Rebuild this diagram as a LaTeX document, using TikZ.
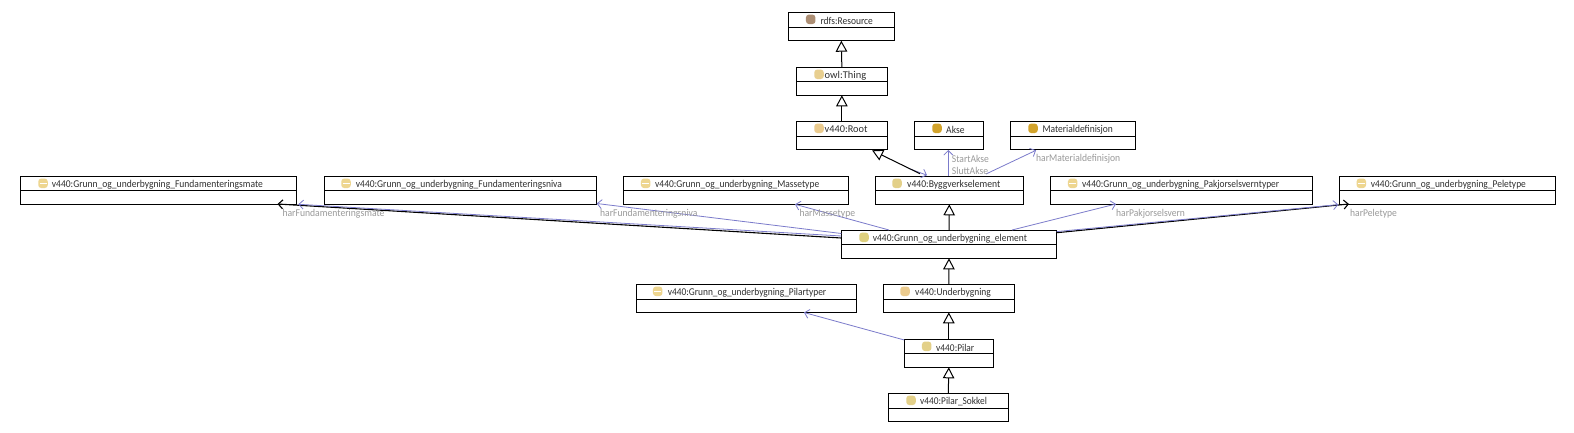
\documentclass[tikz,border=0pt]{standalone}
\usepackage{graphicx}
\usepackage{fontspec}
\setmainfont{Carlito}
\usetikzlibrary{arrows.meta}
\definecolor{rel}{HTML}{7B7BCB}
\definecolor{lbl}{HTML}{9A9A9A}
\definecolor{txt}{HTML}{303030}
\definecolor{icres}{HTML}{AC8E74}
\definecolor{icthing}{HTML}{E8CF90}
\definecolor{icroot}{HTML}{EBCB8E}
\definecolor{icind}{HTML}{D2A32B}
\definecolor{iccls}{HTML}{E3D089}
\definecolor{icelem}{HTML}{DED07E}
\definecolor{icenum}{HTML}{EED690}
\tikzset{
  umlbox/.style={draw=black,line width=1pt,fill=white,inner sep=0pt,outer sep=0pt},
  divider/.style={draw=black,line width=1pt},
  icon/.style={inner sep=0pt,outer sep=0pt,minimum width=9.5pt,minimum height=9.5pt,rounded corners=3pt},
  clsname/.style={anchor=west,inner sep=0pt,text=txt,font=\fontsize{10.4}{12}\selectfont},
  rellabel/.style={anchor=west,inner sep=0pt,text=lbl,font=\fontsize{10.4}{12}\selectfont},
  gen/.style={draw=black,line width=1pt,-{Triangle[open,length=11pt,width=11.5pt,line width=1pt]}},
  assoc/.style={draw=rel,line width=0.8pt,-{Straight Barb[length=4.5pt,width=9pt,line width=0.8pt]}},
  assocb/.style={draw=black,line width=1.1pt,-{Straight Barb[length=4.5pt,width=9pt,line width=1.1pt]}},
}
% name, x1, y1, x2, y2, divider y, icon x, text x, icon colour, then {text width}{label}
\newcommand{\umlclass}[9]{%
  \node[umlbox,minimum width={(#4-#2)*1pt},minimum height={(#5-#3)*1pt}] (#1) at ({(#2+#4)/2},{(#3+#5)/2}) {};
  \draw[divider] (#2,#6) -- (#4,#6);
  \node[icon,fill=#9] (#1-icon) at (#7,#3+7) {};
  \umltext{#1}{#8}{#3}}
\newcommand{\umltext}[5]{\node[clsname] (#1-label) at (#2,#3+8.2) {\resizebox{#4pt}{\height}{#5}};}
\newcommand{\rellab}[5]{\node[rellabel] (#1) at (#2,#3) {\resizebox{#4pt}{\height}{#5}};}
\newcommand{\enumbar}[1]{\draw[white,line width=1.2pt] ([xshift=-3.5pt]#1-icon.center) -- ([xshift=3.5pt]#1-icon.center);}
\begin{document}
\begin{tikzpicture}[x=1pt,y=-1pt]
\useasboundingbox (0,0) rectangle (1574,433);
\fill[white] (0,0) rectangle (1574,433);
% classes
\umlclass{res}{788.3}{12.3}{894.3}{40.7}{27.3}{810.7}{820.3}{icres}{52.4}{rdfs:Resource}
\umlclass{thing}{796}{67.3}{887.7}{95.3}{82}{819}{824.5}{icthing}{41.5}{owl:Thing}
\umlclass{root}{796}{121.3}{887.7}{149.3}{136.3}{819}{824.5}{icroot}{42.8}{v440:Root}
\umlclass{akse}{914.3}{121.3}{983.3}{149.3}{136.3}{937}{946}{icind}{18.3}{Akse}
\umlclass{mat}{1010.3}{121.3}{1135.3}{149.3}{136.3}{1033}{1042.3}{icind}{70.4}{Materialdefinisjon}
\umlclass{bygg}{875.3}{176.3}{1023.3}{204.3}{190.3}{897}{907}{iccls}{93}{v440:Byggverkselement}
\umlclass{fmate}{20.3}{176.3}{296.3}{204.3}{190.3}{43}{51.7}{icenum}{211}{v440:Grunn\_og\_underbygning\_Fundamenteringsmate}
\umlclass{fniva}{324.3}{176.3}{596.3}{204.3}{190.3}{346}{355.7}{icenum}{206}{v440:Grunn\_og\_underbygning\_Fundamenteringsniva}
\umlclass{masse}{623.3}{176.3}{848.3}{204.3}{190.3}{645.7}{655}{icenum}{164}{v440:Grunn\_og\_underbygning\_Massetype}
\umlclass{pakj}{1050.3}{176.3}{1312.7}{204.3}{190.3}{1072.7}{1082}{icenum}{197}{v440:Grunn\_og\_underbygning\_Pakjorselsverntyper}
\umlclass{pele}{1339.3}{176.3}{1555.3}{204.3}{190.3}{1361.3}{1370.7}{icenum}{155}{v440:Grunn\_og\_underbygning\_Peletype}
\umlclass{elem}{841.3}{230.3}{1056.7}{258.3}{244.3}{864}{872.7}{icelem}{154}{v440:Grunn\_og\_underbygning\_element}
\umlclass{under}{883.3}{284.3}{1014.3}{312.3}{299.3}{905}{915}{icroot}{75.7}{v440:Underbygning}
\umlclass{pilt}{636.3}{284.3}{856.3}{312.3}{299.3}{657.7}{667.7}{icenum}{158.3}{v440:Grunn\_og\_underbygning\_Pilartyper}
\umlclass{pilar}{904.3}{339.3}{993.3}{367.3}{353.3}{926.7}{936}{iccls}{38}{v440:Pilar}
\umlclass{sokkel}{888.3}{393.3}{1008.3}{421.3}{408.3}{911}{920}{iccls}{66.7}{v440:Pilar\_Sokkel}
\enumbar{fmate}\enumbar{fniva}\enumbar{masse}\enumbar{pakj}\enumbar{pele}\enumbar{pilt}
% connector end points on the box edges
\coordinate (rootTip) at (872,150.3);
\coordinate (byggGenStart) at (920,173.7);
\coordinate (byggStub) at (910,169);
\coordinate (byggStubTip) at (927,175.2);
\coordinate (aksS) at (948.3,176);
\coordinate (aksT) at (948.3,150);
\coordinate (matS) at (986,174);
\coordinate (matT) at (1036,150.3);
\coordinate (elL) at (841.3,238);
\coordinate (elLb) at (841.3,236);
\coordinate (elLc) at (841.3,233.5);
\coordinate (elMasse) at (889,230);
\coordinate (elPakj) at (1012,230);
\coordinate (elR) at (1056.7,232.7);
\coordinate (elRb) at (1056.7,231.6);
\coordinate (mateTip) at (277.5,204);
\coordinate (mateBlue) at (298.3,204.3);
\coordinate (nivaTip) at (596.7,203.5);
\coordinate (masseTip) at (795,204.3);
\coordinate (pakjTip) at (1116,204);
\coordinate (peleTip) at (1349,204);
\coordinate (peleBlue) at (1338.3,204.6);
\coordinate (piltTip) at (804,312.5);
\coordinate (pilarS) at (904.3,340);
% associations
\draw[assoc] (aksS) -- (aksT);
\draw[assoc] (matS) -- (matT);
\draw[assoc] (byggStub) -- (byggStubTip);
\draw[assocb] (elL) -- (mateTip);
\draw[assoc] (elLb) -- (mateBlue);
\draw[assoc] (elLc) -- (nivaTip);
\draw[assoc] (elMasse) -- (masseTip);
\draw[assoc] (elPakj) -- (pakjTip);
\draw[assocb] (elR) -- (peleTip);
\draw[assoc] (elRb) -- (peleBlue);
\draw[assoc] (pilarS) -- (piltTip);
% generalisations
\draw[gen] (thing.north) -- (res.south);
\draw[gen] (root.north) -- (thing.south);
\draw[gen] (byggGenStart) -- (rootTip);
\draw[gen] (elem.north) -- (bygg.south);
\draw[gen] (under.north) -- (elem.south);
\draw[gen] (pilar.north) -- (under.south);
\draw[gen] (sokkel.north) -- (pilar.south);
% labels
\rellab{lStart}{951.7}{158.7}{37}{StartAkse}
\rellab{lSlutt}{951.7}{171}{36.3}{SluttAkse}
\rellab{lMat}{1036}{158.7}{84}{harMaterialdefinisjon}
\rellab{lMate}{282.3}{214}{102}{harFundamenteringsmate}
\rellab{lNiva}{600}{214}{97.3}{harFundamenteringsniva}
\rellab{lMasse}{799.3}{214}{55.7}{harMassetype}
\rellab{lPakj}{1116}{214}{68.7}{harPakjorselsvern}
\rellab{lPele}{1350}{214}{46.7}{harPeletype}
\end{tikzpicture}
\end{document}
